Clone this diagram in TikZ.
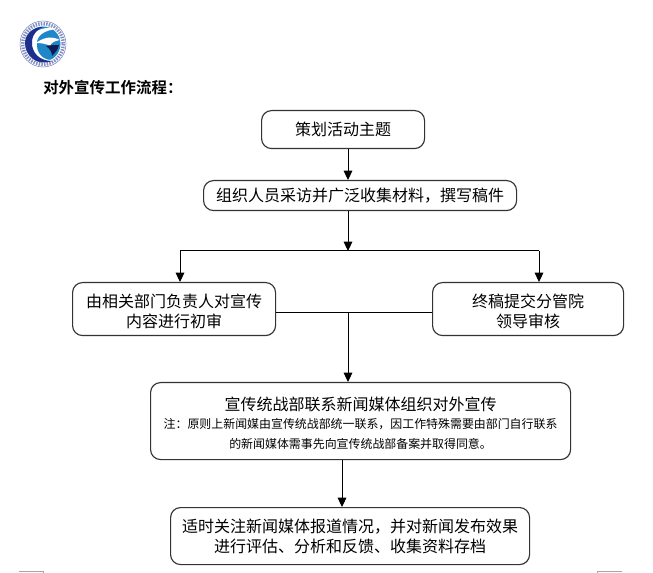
\documentclass[tikz,border=0pt]{standalone}
\usepackage{fontspec}
\setmainfont[BoldFont={Noto Sans CJK SC Bold}]{Noto Sans CJK SC}
\usetikzlibrary{arrows.meta}
\definecolor{edge}{HTML}{333333}
\definecolor{logoA}{HTML}{1C2F8C}
\definecolor{logoB}{HTML}{1F86C8}
\newcommand{\notefont}{\fontsize{8.95}{15}\selectfont}
\newcommand{\topadj}{\rule{0pt}{13.6pt}}
\tikzset{
 flowbox/.style={draw=edge,line width=0.85pt,rounded corners=7.5pt,inner sep=0pt,align=center,font=\fontsize{12}{15}\selectfont,anchor=north west},
 flow/.style={draw=black,line width=0.75pt,-{Triangle[length=7pt,width=6.5pt]}},
 plain/.style={draw=black,line width=0.75pt},
 crop/.style={draw=gray!70,line width=0.6pt}
}
\begin{document}
\begin{tikzpicture}[x=0.75pt,y=-0.75pt]
\useasboundingbox (0,0) rectangle (653,573);
% logo
\draw[logoA!60,line width=0.4pt] (43,44) circle (23);
\draw[logoA!55!white,line width=2.6pt,dash pattern=on 1.1pt off 0.9pt] (43,44) circle (20.3);
\fill[logoB] (43,44) circle (17.5);
\fill[white] (27,46) .. controls (30,32) and (42,25) .. (57,29) .. controls (44,30) and (35,36) .. (37,47) .. controls (38,56) and (46,61) .. (53,60) .. controls (43,65) and (25,61) .. (27,46) -- cycle;
\fill[logoA] (25,43) .. controls (25,55) and (36,67) .. (52,61) .. controls (40,61) and (31,53) .. (32,41) .. controls (33,33) and (38,29) .. (43,27) .. controls (33,27) and (25,34) .. (25,43) -- cycle;
\fill[white] (36,43) .. controls (44,37) and (52,36) .. (60,40) .. controls (54,41) and (51,43) .. (50,46) .. controls (47,44) and (42,43) .. (36,43) -- cycle;
\fill[logoA!60!black] (46,46) .. controls (50,49) and (52,52) .. (52,56) .. controls (55,53) and (58,50) .. (59,45) .. controls (55,45) and (50,45) .. (46,46) -- cycle;
% heading
\node[anchor=west,inner sep=0pt,font=\fontsize{11.6}{14}\selectfont\bfseries] (title) at (43,88) {对外宣传工作流程^^^^ff1a};
% boxes
\node[flowbox,minimum width=122.25pt,minimum height=28.5pt] (plan) at (261,110) {策划活动主题};
\node[flowbox,minimum width=234.75pt,minimum height=22.5pt] (collect) at (203,180) {组织人员采访并广泛收集材料^^^^ff0c撰写稿件};
\node[flowbox,minimum width=152.25pt,minimum height=39.75pt] (dept) at (72,282) {\topadj 由相关部门负责人对宣传\\内容进行初审};
\node[flowbox,minimum width=143.25pt,minimum height=39.75pt] (lead) at (432,282) {\topadj 终稿提交分管院\\领导审核};
\node[flowbox,minimum width=315pt,minimum height=57.75pt] (media) at (150,382) {\topadj 宣传统战部联系新闻媒体组织对外宣传\\[-2pt]\notefont 注^^^^ff1a原则上新闻媒由宣传统战部统一联系^^^^ff0c因工作特殊需要由部门自行联系\\\notefont 的新闻媒体需事先向宣传统战部备案并取得同意。};
\node[flowbox,minimum width=269.25pt,minimum height=42.75pt] (follow) at (170,507) {适时关注新闻媒体报道情况^^^^ff0c并对新闻发布效果\\进行评估、分析和反馈、收集资料存档};
% junctions
\coordinate (splitC) at (348,251);
\coordinate (splitL) at (180,251);
\coordinate (splitR) at (539,251);
\coordinate (mergeC) at (348,313);
% connectors
\draw[flow] (plan.south -| splitC) -- (collect.north -| splitC);
\draw[flow] (collect.south -| splitC) -- (splitC);
\draw[plain] (splitL) -- (splitR);
\draw[flow] (splitL) -- (dept.north -| splitL);
\draw[flow] (splitR) -- (lead.north -| splitR);
\draw[plain] (dept.east |- mergeC) -- (lead.west |- mergeC);
\draw[flow] (mergeC) -- (media.north -| mergeC);
\coordinate (lowC) at (342,459);
\draw[flow] (media.south -| lowC) -- (follow.north -| lowC);
% crop marks
\draw[crop] (19,571) -- (43,571) -- (43,573);
\draw[crop] (622,571) -- (597,571) -- (597,573);
\end{tikzpicture}
\end{document}
